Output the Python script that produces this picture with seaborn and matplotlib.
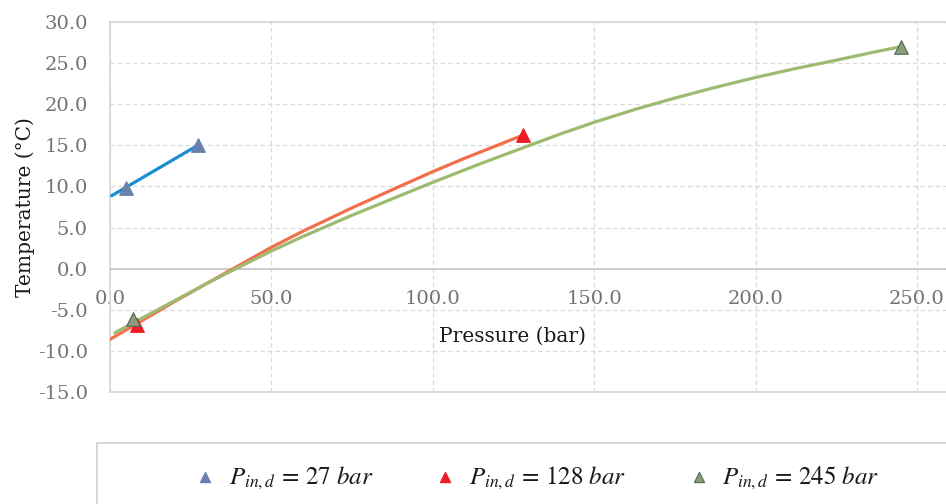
import matplotlib
matplotlib.use("Agg")
import matplotlib.pyplot as plt
import seaborn as sns
import pandas as pd
from matplotlib.patches import Rectangle

# ---- data ----
p27_line = [0.5, 27.2]
t27_line = [8.87, 15.0]
p128_line = [0, 10, 20, 30, 40, 50, 60, 75, 90, 100, 110, 120, 128]
t128_line = [-8.6, -6.3, -4.0, -1.8, 0.4, 2.6, 4.6, 7.4, 10.05, 11.8, 13.45, 15.0, 16.25]
p245_line = [1.5, 10, 20, 30, 40, 50, 60, 75, 90, 100, 115, 130, 140, 150, 162.5, 175, 187.5,
             200, 212.5, 225, 235, 245]
t245_line = [-7.8, -6.0, -3.9, -1.8, 0.2, 2.15, 3.95, 6.5, 8.9, 10.5, 12.8, 15.0, 16.45, 17.8,
             19.35, 20.75, 22.05, 23.25, 24.35, 25.35, 26.2, 27.0]

p27_pts = [5.0, 27.2]
t27_pts = [9.8, 15.0]
p128_pts = [8.5, 128.0]
t128_pts = [-6.8, 16.3]
p245_pts = [7.2, 245.0]
t245_pts = [-6.1, 27.0]

labels = [r"$P_{in,d}\,=\,27\ bar$", r"$P_{in,d}\,=\,128\ bar$", r"$P_{in,d}\,=\,245\ bar$"]
x_ticks = [0, 50, 100, 150, 200, 250]
y_ticks = [-15, -10, -5, 0, 5, 10, 15, 20, 25, 30]

sns.set_theme(style="white")
plt.rcParams["font.family"] = ["DejaVu Serif"]
plt.rcParams["mathtext.fontset"] = "stix"

W, H = 946, 504
fig = plt.figure(figsize=(W / 100, H / 100), dpi=100)
ax_left, ax_top, ax_bottom = 110, 22, 392
ax = fig.add_axes([ax_left / W, 1 - ax_bottom / H, (W - ax_left) / W, (ax_bottom - ax_top) / H])

line_cols = ["#1b8dd0", "#f26f4a", "#9cbb70"]
mk_cols = ["#6a80ad", "#ee1c25", "#8aa07c"]
mk_edges = ["#6a80ad", "#ee1c25", "#5e6e57"]

curves = [(p27_line, t27_line), (p128_line, t128_line), (p245_line, t245_line)]
pts = [(p27_pts, t27_pts), (p128_pts, t128_pts), (p245_pts, t245_pts)]

for (px, ty), c in zip(curves, line_cols):
    sns.lineplot(x=px, y=ty, ax=ax, color=c, lw=2.3, legend=False, sort=False, zorder=3)

handles = []
for (px, ty), c, ec, lab in zip(pts, mk_cols, mk_edges, labels):
    sns.scatterplot(x=px, y=ty, ax=ax, marker="^", s=95, color=c, edgecolor=ec,
                    linewidth=0.9, zorder=4, label=lab, legend=False, clip_on=False)
    handles.append(ax.collections[-1])

ax.set_xlim(0, 259)
ax.set_ylim(-15, 30)
ax.set_xticks(x_ticks)
ax.set_yticks(y_ticks)
ax.set_xticklabels([f"{v:.1f}" for v in x_ticks])
ax.set_yticklabels([f"{v:.1f}" for v in y_ticks])

ax.grid(True, color="#d9d9d9", lw=0.9, ls=(0, (3.5, 2.5)))
ax.set_axisbelow(True)

for s in ["left", "top"]:
    ax.spines[s].set_visible(True)
    ax.spines[s].set_color("#d6d6d6")
    ax.spines[s].set_linewidth(1.2)
ax.spines["right"].set_visible(False)
ax.spines["bottom"].set_position(("data", 0))
ax.spines["bottom"].set_color("#c4c4c4")
ax.spines["bottom"].set_linewidth(1.2)
ax.axhline(-15, color="#d6d6d6", lw=1.2, zorder=1, clip_on=False)

ax.tick_params(axis="both", length=0, labelsize=14, labelcolor="#737373")
ax.tick_params(axis="x", pad=15)
ax.tick_params(axis="y", pad=16)

ax.set_ylabel("Temperature (°C)", fontsize=14.5, color="#1a1a1a")
ax.yaxis.set_label_coords((35 - ax_left) / (W - ax_left), 0.5)
ax.set_xlabel("Pressure (bar)", fontsize=14.5, color="#1a1a1a")
ax.xaxis.set_label_coords((512 - ax_left) / (W - ax_left), (ax_bottom - 336) / (ax_bottom - ax_top))
ax.xaxis.label.set_va("center")

# legend box
fig.patches.append(Rectangle((97 / W, -0.05), 1.0, (504 - 443) / H + 0.05, transform=fig.transFigure,
                             fill=False, edgecolor="#d0d0d0", lw=1.2))
leg = fig.legend(handles, labels, loc="center", bbox_to_anchor=(537 / W, 1 - 478 / H), ncol=3,
                 frameon=False, fontsize=18, markerscale=0.75, handlelength=0.8,
                 handletextpad=0.55, columnspacing=2.5, borderaxespad=0)
for t in leg.get_texts():
    t.set_color("#1a1a1a")

fig.savefig("out.png", dpi=100)
